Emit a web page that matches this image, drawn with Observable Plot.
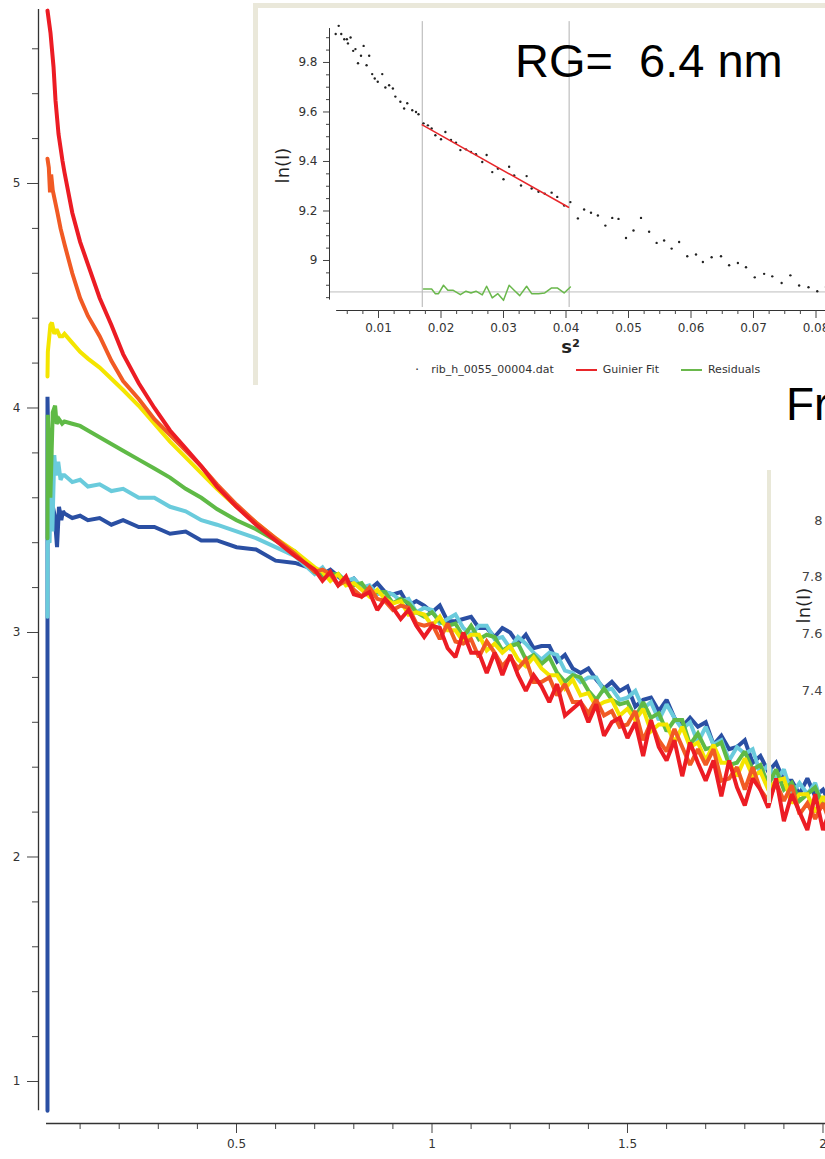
<!DOCTYPE html>
<html><head><meta charset="utf-8">
<script src="https://cdn.jsdelivr.net/npm/d3@7"></script>
<script src="https://cdn.jsdelivr.net/npm/@observablehq/plot@0.6"></script>
<style>
html,body{margin:0;padding:0;background:#fff;}
#wrap{position:relative;width:825px;height:1159px;overflow:hidden;font-family:"DejaVu Sans",sans-serif;}
#main{position:absolute;left:0;top:0;}
#inset1{position:absolute;left:253px;top:3px;width:572px;height:382px;box-sizing:border-box;border-left:5px solid #eae8da;border-top:5px solid #eae8da;background:#fff;}
#inset1plot{position:absolute;left:0;top:0;}
#legend{position:absolute;left:157px;top:355px;display:flex;align-items:center;font-size:11px;color:#333;white-space:nowrap;}
#legend .sw{display:inline-block;width:21px;height:2px;margin:0 6px 0 22px;}
#rg{position:absolute;left:515px;top:37px;font-family:"Liberation Sans",Arial,sans-serif;font-size:47px;line-height:1;color:#000;white-space:pre;}
#fr{position:absolute;left:786px;top:381px;font-family:"Liberation Sans",Arial,sans-serif;font-size:46px;line-height:1;color:#000;white-space:pre;}
#inset2line{position:absolute;left:767px;top:470px;width:4px;height:333px;background:#e9e8d8;}
#inset2{position:absolute;left:768px;top:460px;}
</style></head>
<body><div id="wrap">
<div id="main"></div>
<div id="inset2line"></div>
<div id="inset2"></div>
<div id="fr">Fr</div>
<div id="inset1"><div id="inset1plot"></div>
<div id="legend"><span style="font-size:13px;line-height:11px;">·</span><span style="margin-left:12px">rib_h_0055_00004.dat</span><span class="sw" style="background-color:#e8262a"></span><span>Guinier Fit</span><span class="sw" style="background-color:#6ab84c"></span><span>Residuals</span></div>
</div>
<div id="rg">RG=  6.4 nm</div>
</div>
<script>
// ---------- main chart data ----------
const seriesNames = ["s1", "s2", "s3", "s4", "s5", "s6"];   // drawn in this order
const seriesColors = ["#2a4fa3", "#6acbdc", "#5fba46", "#f4e500", "#f15a24", "#ec1c24"];

// shared q grids
const qA = [0.06,0.08,0.10,0.12,0.15,0.18,0.21,0.25,0.29,0.33,0.37,0.41,0.45,0.50,0.55,0.60,0.65];
const qB = [0.70,0.72,0.74,0.76,0.78,0.80,0.82,0.84,0.86,0.88,0.90,0.92,0.94,0.96,0.98,1.00,1.02,1.04,1.06,1.08,1.10,1.12,1.14,1.16,1.18,1.20,1.22,1.24,1.26,1.28,1.30,1.32,1.34,1.36,1.38,1.40,1.42,1.44,1.46,1.48,1.50,1.52,1.54,1.56,1.58,1.60,1.62,1.64,1.66,1.68,1.70,1.72,1.74,1.76,1.78,1.80,1.82,1.84,1.86,1.88,1.90,1.92,1.94,1.96,1.98,2.00,2.02];

// low-q starts [q, ln I]
const s1Head = [[0.0166,0.87],[0.0166,4.05],[0.0175,3.95],[0.021,3.64],[0.035,3.52],[0.041,3.38],[0.046,3.56],[0.052,3.50],[0.056,3.54]];
const s2Head = [[0.0166,3.07],[0.017,3.41],[0.022,3.40],[0.026,3.81],[0.029,3.45],[0.034,3.79],[0.038,3.70],[0.044,3.76],[0.050,3.68],[0.055,3.70]];
const s3Head = [[0.0166,3.42],[0.0175,3.97],[0.024,3.60],[0.030,3.98],[0.036,4.01],[0.040,3.93],[0.046,3.95],[0.054,3.93]];
const s4Head = [[0.0166,4.14],[0.0175,4.25],[0.024,4.37],[0.028,4.38],[0.034,4.33],[0.040,4.35],[0.048,4.32],[0.055,4.32]];
const s5Head = [[0.0166,5.11],[0.020,5.07],[0.023,4.96],[0.026,5.04],[0.030,4.97],[0.036,4.92],[0.042,4.87],[0.050,4.80]];
const s6Head = [[0.0166,5.77],[0.0243,5.67],[0.032,5.52],[0.0371,5.37],[0.0448,5.22],[0.055,5.10]];

// values on qA
const s1A = [3.53,3.51,3.52,3.50,3.51,3.48,3.50,3.47,3.47,3.44,3.45,3.41,3.41,3.38,3.37,3.32,3.31];
const s2A = [3.70,3.67,3.68,3.65,3.66,3.63,3.64,3.60,3.60,3.56,3.54,3.50,3.48,3.45,3.42,3.38,3.34];
const s3A = [3.94,3.93,3.92,3.90,3.87,3.84,3.81,3.77,3.73,3.69,3.64,3.60,3.55,3.50,3.46,3.41,3.36];
const s4A = [4.33,4.29,4.25,4.22,4.18,4.13,4.08,4.01,3.93,3.85,3.78,3.71,3.64,3.56,3.49,3.42,3.36];
const s5A = [4.73,4.60,4.49,4.41,4.32,4.21,4.12,4.04,3.95,3.88,3.81,3.74,3.66,3.57,3.49,3.42,3.35];
const s6A = [5.05,4.87,4.74,4.64,4.49,4.37,4.24,4.11,4.00,3.90,3.82,3.74,3.65,3.56,3.48,3.41,3.34];

// values on qB (noisy high-q part)
const s1B = [3.28,3.26,3.28,3.25,3.22,3.24,3.20,3.19,3.22,3.18,3.17,3.18,3.12,3.14,3.12,3.09,3.12,3.05,3.05,3.06,3.07,3.02,3.02,2.98,3.02,3.00,2.95,2.99,2.93,2.94,2.94,2.87,2.90,2.84,2.82,2.84,2.79,2.75,2.78,2.74,2.76,2.67,2.70,2.71,2.65,2.70,2.62,2.58,2.62,2.58,2.60,2.50,2.54,2.48,2.49,2.52,2.42,2.45,2.38,2.42,2.34,2.34,2.28,2.35,2.27,2.30,2.23];
const s2B = [3.26,3.29,3.24,3.26,3.23,3.24,3.20,3.21,3.17,3.18,3.17,3.14,3.15,3.09,3.11,3.10,3.04,3.06,3.08,3.02,2.99,3.03,3.03,2.97,2.98,2.93,2.98,2.95,2.91,2.88,2.91,2.90,2.83,2.82,2.78,2.80,2.80,2.74,2.75,2.70,2.71,2.74,2.66,2.69,2.61,2.68,2.62,2.57,2.60,2.51,2.58,2.50,2.52,2.43,2.49,2.46,2.48,2.37,2.41,2.34,2.39,2.28,2.33,2.28,2.33,2.22,2.28];
const s3B = [3.27,3.25,3.26,3.26,3.22,3.21,3.22,3.17,3.18,3.18,3.13,3.15,3.13,3.09,3.07,3.09,3.05,3.03,3.04,2.98,3.03,2.97,2.99,2.98,2.92,2.94,2.95,2.88,2.90,2.86,2.89,2.82,2.78,2.81,2.80,2.74,2.70,2.75,2.70,2.68,2.69,2.62,2.69,2.62,2.64,2.56,2.61,2.61,2.50,2.55,2.48,2.49,2.51,2.41,2.42,2.47,2.39,2.41,2.32,2.39,2.30,2.33,2.25,2.28,2.31,2.23,2.20];
const s4B = [3.29,3.27,3.23,3.26,3.21,3.22,3.19,3.16,3.19,3.15,3.13,3.14,3.08,3.09,3.08,3.03,3.07,3.01,3.01,2.96,2.99,2.99,2.92,2.95,2.91,2.94,2.88,2.85,2.89,2.84,2.81,2.81,2.75,2.79,2.72,2.73,2.67,2.69,2.70,2.63,2.66,2.61,2.66,2.56,2.59,2.59,2.51,2.58,2.49,2.51,2.43,2.50,2.42,2.42,2.36,2.44,2.36,2.38,2.30,2.34,2.35,2.24,2.28,2.28,2.20,2.27,2.20];
const s5B = [3.27,3.28,3.26,3.21,3.23,3.19,3.16,3.20,3.15,3.14,3.10,3.12,3.11,3.04,3.03,3.04,2.97,3.04,2.96,2.95,2.97,2.89,2.96,2.91,2.85,2.89,2.84,2.88,2.78,2.78,2.80,2.72,2.77,2.69,2.69,2.64,2.70,2.63,2.65,2.58,2.59,2.65,2.52,2.60,2.52,2.47,2.57,2.49,2.41,2.48,2.41,2.48,2.34,2.35,2.40,2.30,2.40,2.30,2.25,2.33,2.25,2.32,2.19,2.24,2.17,2.24,2.14];
const s6B = [3.28,3.23,3.27,3.21,3.25,3.17,3.16,3.18,3.10,3.15,3.11,3.06,3.10,3.03,2.98,3.03,3.02,2.93,2.89,3.00,2.91,2.91,2.82,2.91,2.81,2.90,2.81,2.74,2.81,2.76,2.69,2.77,2.63,2.66,2.69,2.60,2.68,2.54,2.60,2.62,2.53,2.60,2.45,2.61,2.49,2.43,2.52,2.36,2.51,2.42,2.34,2.43,2.27,2.43,2.31,2.23,2.35,2.30,2.22,2.35,2.16,2.28,2.20,2.12,2.28,2.12,2.22];

// axis ticks
const xMajor = [0.5, 1, 1.5, 2];
const xMinor = [0.1,0.2,0.3,0.4,0.6,0.7,0.8,0.9,1.1,1.2,1.3,1.4,1.6,1.7,1.8,1.9];
const yMajor = [1, 2, 3, 4, 5];
const yMinor = [1.2,1.4,1.6,1.8,2.2,2.4,2.6,2.8,3.2,3.4,3.6,3.8,4.2,4.4,4.6,4.8,5.2,5.4,5.6];

// ---------- Guinier inset data ----------
const s2v = [0.00315,0.00363,0.00404,0.00452,0.00494,0.00511,0.00553,0.00595,0.00631,0.00672,0.0072,0.00762,0.00809,0.00851,0.00899,0.0094,0.00988,0.0106,0.0111,0.0117,0.0123,0.0127,0.0135,0.0141,0.0146,0.0154,0.016,0.0164,0.0172,0.0179,0.0185,0.0191,0.02,0.0207,0.0216,0.0224,0.0231,0.024,0.0248,0.0256,0.0266,0.0273,0.0282,0.0291,0.03,0.0309,0.0317,0.0328,0.0337,0.0345,0.0356,0.0366,0.0377,0.0386,0.0397,0.0407,0.0419,0.0429,0.044,0.0451,0.0463,0.0474,0.0484,0.0496,0.0508,0.052,0.0533,0.0545,0.0557,0.0569,0.0581,0.0594,0.0608,0.0619,0.0633,0.0648,0.0661,0.0675,0.0688,0.0702,0.0717,0.073,0.0745,0.0759,0.0773,0.0788,0.0802,0.0816];
const lnI = [9.915,9.948,9.915,9.894,9.894,9.877,9.901,9.847,9.854,9.797,9.827,9.867,9.789,9.827,9.753,9.735,9.722,9.753,9.699,9.708,9.695,9.662,9.641,9.614,9.635,9.607,9.600,9.591,9.554,9.546,9.533,9.506,9.490,9.519,9.487,9.476,9.446,9.449,9.438,9.429,9.398,9.426,9.357,9.371,9.328,9.379,9.344,9.303,9.341,9.291,9.278,9.270,9.274,9.257,9.222,9.236,9.170,9.206,9.193,9.182,9.141,9.172,9.168,9.091,9.121,9.172,9.116,9.071,9.081,9.048,9.075,9.017,9.024,8.994,9.013,9.017,8.981,8.990,8.973,8.932,8.946,8.936,8.909,8.940,8.899,8.892,8.876,8.893];
const fitRange = [0.0170, 0.0405];
const fitS2 = [0.0170, 0.0404];
const fitLnI = [9.548, 9.215];
const residualZero = 8.873;
const residS2 = [0.0172,0.0179,0.0185,0.0191,0.0196,0.0204,0.0211,0.0219,0.0231,0.0240,0.0248,0.0256,0.0266,0.0273,0.0282,0.0291,0.0300,0.0309,0.0317,0.0326,0.0337,0.0345,0.0356,0.0366,0.0377,0.0386,0.0397,0.0407];
const residLnI = [8.885,8.885,8.885,8.866,8.866,8.900,8.880,8.880,8.862,8.876,8.869,8.876,8.861,8.896,8.849,8.866,8.839,8.900,8.880,8.858,8.896,8.866,8.866,8.869,8.889,8.889,8.869,8.893];
const insetYMajor = [9, 9.2, 9.4, 9.6, 9.8];
const insetXMajor = [0.01,0.02,0.03,0.04,0.05,0.06,0.07,0.08];

// second (cut-off) inset axis
const inset2Ticks = [7.4, 7.6, 7.8, 8];

// ---------- build ----------
function rows(name, head, a, b) {
  return [
    ...head.map(([q, v]) => ({name, q, v})),
    ...qA.map((q, i) => ({name, q, v: a[i]})),
    ...qB.map((q, i) => ({name, q, v: b[i]}))
  ];
}
const curves = [
  ...rows("s1", s1Head, s1A, s1B),
  ...rows("s2", s2Head, s2A, s2B),
  ...rows("s3", s3Head, s3A, s3B),
  ...rows("s4", s4Head, s4A, s4B),
  ...rows("s5", s5Head, s5A, s5B),
  ...rows("s6", s6Head, s6A, s6B)
];

const xDom = [-0.0064, 2.0064];
const yDom = [0.8129, 5.8151];
const yAxisExtent = [0.87, 5.775];
const xAxisStart = 0.0141;
const fmt = d => String(d);
const axisStyle = {fontFamily: "DejaVu Sans, sans-serif", fontSize: "12px", color: "#333", background: "transparent", overflow: "visible"};

const main = Plot.plot({
  width: 825, height: 1159,
  marginLeft: 38, marginRight: 0, marginTop: 0, marginBottom: 36,
  x: {domain: xDom, label: null},
  y: {domain: yDom, label: null},
  color: {domain: seriesNames, range: seriesColors},
  style: axisStyle,
  marks: [
    Plot.axisY({ticks: yMajor, tickSize: 11, tickPadding: 7, tickFormat: fmt, label: null, stroke: "#444"}),
    Plot.axisY({ticks: yMinor, tickSize: 6, tickFormat: () => "", label: null, stroke: "#444"}),
    Plot.axisX({ticks: xMajor, tickSize: 10, tickPadding: 6, tickFormat: fmt, label: null, stroke: "#444"}),
    Plot.axisX({ticks: xMinor, tickSize: 6, tickFormat: () => "", label: null, stroke: "#444"}),
    Plot.ruleX([xDom[0]], {y1: yAxisExtent[0], y2: yAxisExtent[1], stroke: "#333", strokeWidth: 1.3}),
    Plot.ruleY([yDom[0]], {x1: xAxisStart, x2: xDom[1], stroke: "#333", strokeWidth: 1.3}),
    Plot.line(curves, {x: "q", y: "v", z: "name", stroke: "name", strokeWidth: 4, strokeLinejoin: "miter", strokeMiterlimit: 2})
  ]
});
document.getElementById("main").append(main);

// Guinier inset
const insetXDom = [0.00216, 0.08152];
const insetYDom = [8.798, 10.018];
const insetYMinor = d3.range(8.85, 9.95, 0.05).map(d => +d.toFixed(2)).filter(d => !insetYMajor.includes(d));
const insetXMinor = d3.range(0.005, 0.0816, 0.0025).map(d => +d.toFixed(4)).filter(d => !insetXMajor.includes(d));
const points = s2v.map((s, i) => ({s, v: lnI[i]}));
const fit = fitS2.map((s, i) => ({s, v: fitLnI[i]}));
const resid = residS2.map((s, i) => ({s, v: residLnI[i]}));

const inset = Plot.plot({
  width: 567, height: 352,
  marginLeft: 71, marginRight: 0, marginTop: 0, marginBottom: 50,
  x: {domain: insetXDom, label: null},
  y: {domain: insetYDom, label: null},
  style: {fontFamily: "DejaVu Sans, sans-serif", fontSize: "12px", color: "#333", background: "transparent", overflow: "visible"},
  marks: [
    Plot.ruleX(fitRange, {y1: 8.81, y2: 9.965, stroke: "#b2b2b2", strokeWidth: 1}),
    Plot.ruleY([residualZero], {x1: insetXDom[0], x2: insetXDom[1], stroke: "#bdbdbd", strokeWidth: 1}),
    Plot.ruleX([insetXDom[0]], {y1: 8.84, y2: 9.937, stroke: "#333"}),
    Plot.ruleY([insetYDom[0]], {x1: 0.0033, x2: insetXDom[1], stroke: "#333"}),
    Plot.axisY({ticks: insetYMajor, tickSize: 6, tickPadding: 6, tickFormat: fmt, label: null, stroke: "#444"}),
    Plot.axisY({ticks: insetYMinor, tickSize: 3, tickFormat: () => "", label: null, stroke: "#444"}),
    Plot.axisX({ticks: insetXMajor, tickSize: 8, tickPadding: 5, tickFormat: fmt, label: null, stroke: "#444"}),
    Plot.axisX({ticks: insetXMinor, tickSize: 4, tickFormat: () => "", label: null, stroke: "#444"}),
    Plot.dot(points, {x: "s", y: "v", r: 1.2, fill: "#222", stroke: null}),
    Plot.line(fit, {x: "s", y: "v", stroke: "#e8262a", strokeWidth: 1.5}),
    Plot.line(resid, {x: "s", y: "v", stroke: "#6ab84c", strokeWidth: 1.5}),
    Plot.text(["ln(I)"], {frameAnchor: "left", textAnchor: "middle", dx: -46, dy: 6, rotate: -90, fontSize: 18, fill: "#222"}),
    Plot.text(["s²"], {frameAnchor: "bottom", textAnchor: "middle", dx: -7, dy: 42, fontSize: 18, fontWeight: "bold", fill: "#222"})
  ]
});
document.getElementById("inset1plot").append(inset);

// cut-off second inset (axis only)
const inset2 = Plot.plot({
  width: 57, height: 350,
  marginLeft: 55, marginRight: 0, marginTop: 0, marginBottom: 0,
  y: {domain: [6.9764, 8.2118], label: null},
  style: {fontFamily: "DejaVu Sans, sans-serif", fontSize: "13px", color: "#444", background: "transparent", overflow: "visible"},
  marks: [
    Plot.axisY({ticks: inset2Ticks, tickSize: 0, tickPadding: 1, tickFormat: fmt, label: null}),
    Plot.text(["ln(I)"], {frameAnchor: "top-left", textAnchor: "middle", dx: -26, dy: 145, rotate: -90, fontSize: 18, fill: "#222"})
  ]
});
document.getElementById("inset2").append(inset2);
</script>
</body></html>
